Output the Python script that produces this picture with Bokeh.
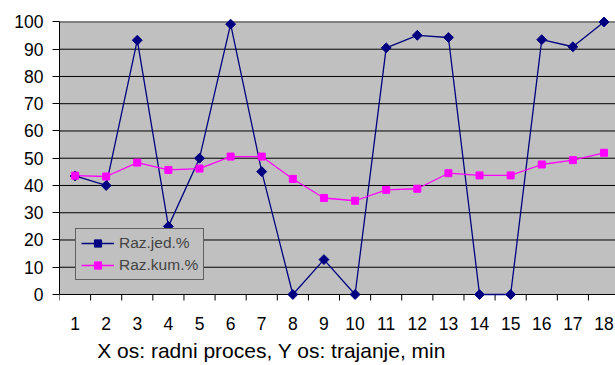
import numpy as np
from bokeh.plotting import figure
from bokeh.models import FixedTicker, Span, BoxAnnotation, Legend, LegendItem, Title, Range1d
from bokeh.embed import file_html
from bokeh.resources import INLINE

# ---- data ----
categories = list(range(1, 19))
raz_jed = [43.5, 40.0, 93.3, 25.0, 50.0, 99.2, 45.1, 0.0, 12.8, 0.0,
           90.5, 95.1, 94.3, 0.0, 0.0, 93.5, 90.9, 100.0]
raz_kum = [43.6, 43.3, 48.4, 45.7, 46.2, 50.6, 50.6, 42.4, 35.4, 34.4,
           38.4, 38.8, 44.5, 43.7, 43.7, 47.7, 49.3, 52.0]
y_ticks = [0, 10, 20, 30, 40, 50, 60, 70, 80, 90, 100]
series_names = ["Raz.jed.%", "Raz.kum.%"]
x_title = "X os: radni proces, Y os: trajanje, min"

FONT = "Liberation Sans"

p = figure(width=615, height=365,
           x_range=Range1d(0.5, 18.37), y_range=Range1d(-2.2, 102),
           output_backend="svg", toolbar_location=None,
           min_border_left=59, min_border_right=0, min_border_top=16, min_border_bottom=64,
           background_fill_color="white", border_fill_color="white",
           outline_line_color=None)

p.xgrid.visible = False
p.ygrid.visible = False

# plot-area fill between 0 and 100
p.add_layout(BoxAnnotation(bottom=y_ticks[0], top=y_ticks[-1], fill_color="#C0C0C0",
                           fill_alpha=1, line_color=None, level="image"))
for t in y_ticks[1:-1]:
    p.add_layout(Span(location=t, dimension="width", line_color="black",
                      line_width=1, level="underlay"))
p.add_layout(Span(location=y_ticks[-1], dimension="width", line_color="#808080",
                  line_width=2, level="underlay"))
p.add_layout(Span(location=y_ticks[0], dimension="width", line_color="black",
                  line_width=1, level="underlay"))

# category boundary ticks on x axis
bounds = [c - 0.5 for c in categories] + [categories[-1] + 0.5]
p.segment(x0=bounds, y0=[0] * len(bounds), x1=bounds, y1=[-3] * len(bounds),
          line_color="black", line_width=1)

# x axis
xa = p.xaxis[0]
xa.ticker = FixedTicker(ticks=categories)
xa.axis_line_color = None
xa.major_tick_line_color = None
xa.minor_tick_line_color = None
xa.major_tick_out = 0
xa.major_tick_in = 0
xa.major_label_standoff = 16
xa.major_label_text_font = FONT
xa.major_label_text_font_size = "17.5px"
xa.major_label_text_color = "black"

# y axis
ya = p.yaxis[0]
ya.ticker = FixedTicker(ticks=y_ticks)
ya.bounds = (y_ticks[0], y_ticks[-1])
ya.axis_line_color = "black"
ya.axis_line_width = 1
ya.major_tick_line_color = "black"
ya.major_tick_out = 7
ya.major_tick_in = 0
ya.minor_tick_line_color = None
ya.major_label_standoff = 9
ya.major_label_text_font = FONT
ya.major_label_text_font_size = "17.5px"
ya.major_label_text_color = "black"

# series
l1 = p.line(categories, raz_jed, line_color="#000080", line_width=1.3)
m1 = p.scatter(categories, raz_jed, marker="square", angle=np.pi / 4, size=7,
               fill_color="#000080", line_color="#000080")
l2 = p.line(categories, raz_kum, line_color="#FF00FF", line_width=1.3)
m2 = p.scatter(categories, raz_kum, marker="square", size=7,
               fill_color="#FF00FF", line_color="#FF00FF")

legend = Legend(items=[LegendItem(label=series_names[0], renderers=[l1, m1]),
                       LegendItem(label=series_names[1], renderers=[l2, m2])],
                location=(16, 20), padding=5, spacing=4, margin=0,
                glyph_width=33, glyph_height=18, label_height=18, label_standoff=5,
                label_text_font=FONT, label_text_font_size="15.5px",
                border_line_color="black", border_line_width=1,
                background_fill_color="#C0C0C0", background_fill_alpha=1)
p.add_layout(legend)

p.add_layout(Title(text=x_title, align="left", offset=37.7, text_font=FONT,
                   text_font_size="21px", text_font_style="normal",
                   text_color="black", standoff=8), "below")

open("out.html", "w").write(file_html(p, INLINE))
